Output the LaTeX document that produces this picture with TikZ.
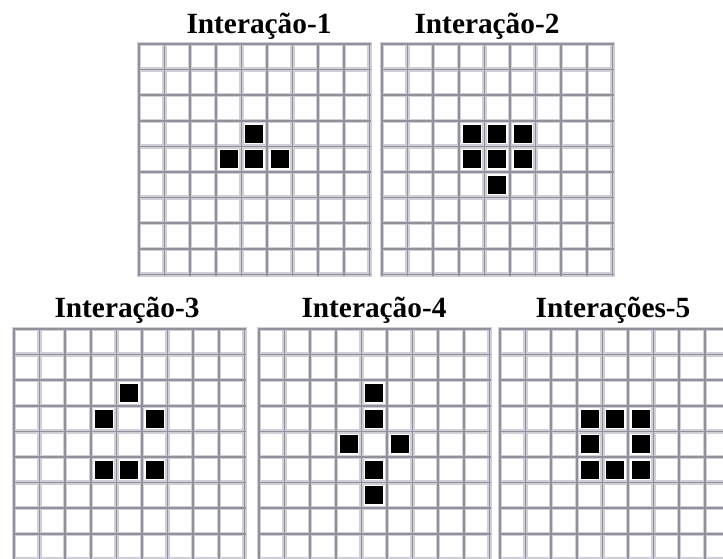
\documentclass[tikz,border=0pt]{standalone}
\usepackage{fontspec}
\setmainfont{Liberation Serif}
\definecolor{gridpale}{RGB}{208,206,214}
\definecolor{gridline}{RGB}{145,145,155}
% board of 9x9 cells, #1/#2 = top left corner (px)
\newcommand{\lifegrid}[2]{%
  \fill[gridpale] (#1,#2) rectangle +(235,235);
  \foreach \k in {0,...,9}{
    \draw[gridrule] (#1+2+25.6*\k,#2+1) -- (#1+2+25.6*\k,#2+234);
    \draw[gridrule] (#1+1,#2+2+25.6*\k) -- (#1+234,#2+2+25.6*\k);
  }
  \foreach \i in {0,...,8}{\foreach \j in {0,...,8}{
    \fill[white] (#1+4.2+25.6*\i,#2+4.2+25.6*\j) rectangle +(21.2,21.2);
  }}%
}
% live cell at column #3, row #4
\newcommand{\alive}[4]{%
  \fill[black] (#1+5.8+25.6*#3,#2+5.8+25.6*#4) rectangle +(18,18);%
}

\begin{document}
\begin{tikzpicture}[
    x=0.75pt, y=-0.75pt,
    gridrule/.style={draw=gridline,line width=1.1pt},
    title/.style={anchor=base,inner sep=0pt,font=\fontsize{22}{24}\selectfont\bfseries}
  ]
    \clip (0,0) rectangle (723,558);
    \fill[white] (0,0) rectangle (723,558);

    % top row
    \node[title] (iter1) at (259,33) {Interação-1};
    \node[title] (iter2) at (487,33) {Interação-2};
    \lifegrid{137}{42}
    \lifegrid{380}{42}
    \foreach \c/\r in {4/3,3/4,4/4,5/4} {\alive{137}{42}{\c}{\r}}
    \foreach \c/\r in {3/3,4/3,5/3,3/4,4/4,5/4,4/5} {\alive{380}{42}{\c}{\r}}

    % bottom row
    \node[title] (iter3) at (127,317) {Interação-3};
    \node[title] (iter4) at (374,317) {Interação-4};
    \node[title] (iter5) at (613,317) {Interações-5};
    \lifegrid{12}{327}
    \lifegrid{257}{327}
    \lifegrid{498}{327}
    \foreach \c/\r in {4/2,3/3,5/3,3/5,4/5,5/5} {\alive{12}{327}{\c}{\r}}
    \foreach \c/\r in {4/2,4/3,3/4,5/4,4/5,4/6} {\alive{257}{327}{\c}{\r}}
    \foreach \c/\r in {3/3,4/3,5/3,3/4,5/4,3/5,4/5,5/5} {\alive{498}{327}{\c}{\r}}
  \end{tikzpicture}
\end{document}
